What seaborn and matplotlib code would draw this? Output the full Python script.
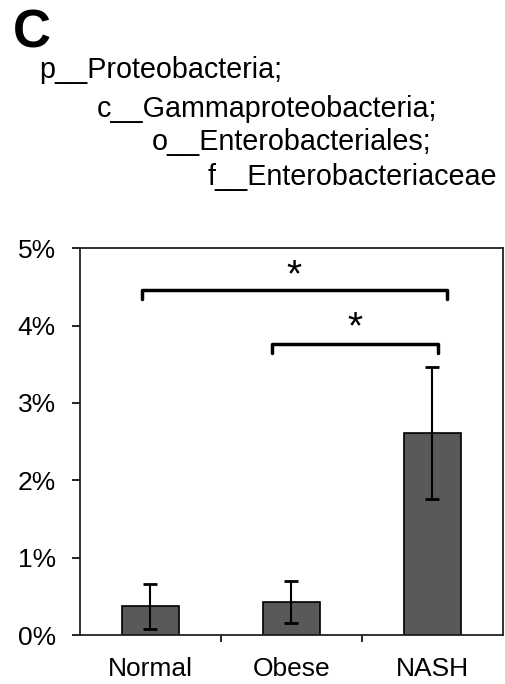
import matplotlib
matplotlib.use("Agg")
import matplotlib.pyplot as plt
import seaborn as sns
import pandas as pd
from matplotlib.ticker import FuncFormatter

groups = ["Normal", "Obese", "NASH"]
means = [0.37, 0.43, 2.61]
errors = [0.29, 0.27, 0.85]
taxonomy = ["p__Proteobacteria;", "c__Gammaproteobacteria;",
            "o__Enterobacteriales;", "f__Enterobacteriaceae"]
yticks = [0, 1, 2, 3, 4, 5]
brackets = [(-0.06, 2.1, 4.46), (0.86, 2.04, 3.76)]
star_y = [4.64, 3.97]

sns.set_style("ticks")
plt.rcParams['font.family'] = ['Liberation Sans', 'DejaVu Sans']
plt.rcParams['text.color'] = 'black'
plt.rcParams['xtick.color'] = 'black'
plt.rcParams['ytick.color'] = 'black'
plt.rcParams['xtick.labelcolor'] = 'black'
plt.rcParams['ytick.labelcolor'] = 'black'

fig = plt.figure(figsize=(5.06, 6.84), dpi=100)
ax = fig.add_axes([0.158, 0.0716, 0.836, 0.5654])

df = pd.DataFrame({"group": groups, "value": means})
sns.barplot(data=df, x="group", y="value", color="#595959", edgecolor="black",
            linewidth=1.2, width=0.41, saturation=1, errorbar=None, ax=ax)
ax.errorbar(range(len(groups)), means, yerr=errors, fmt="none", ecolor="black",
            elinewidth=1.5, capsize=5, capthick=2)

for (x0, x1, y), sy in zip(brackets, star_y):
    ax.plot([x0, x0, x1, x1], [y - 0.11, y, y, y - 0.11], color="black", lw=2.5,
            solid_joinstyle="round")
    ax.text((x0 + x1) / 2, sy, "*", ha="center", va="center", fontsize=28)

ax.set_xlim(-0.5, 2.5)
ax.set_ylim(0, 5)
ax.set_yticks(yticks)
ax.yaxis.set_major_formatter(FuncFormatter(lambda v, p: f"{int(v)}%"))
ax.set_xticks([0.5, 1.5], minor=False)
ax.set_xticklabels([])
ax.set_xticks([0, 1, 2], minor=True)
ax.set_xticklabels(groups, minor=True)
ax.tick_params(axis="x", which="minor", length=0, pad=15.5, labelsize=19)
ax.tick_params(axis="x", which="major", length=5, width=1.2, direction="out")
ax.tick_params(axis="y", length=5.5, width=1.2, labelsize=19, pad=12)
ax.set_xlabel("")
ax.set_ylabel("")
for s in ax.spines.values():
    s.set_linewidth(1.3)
    s.set_color("#222222")
    s.set_visible(True)

fig.text(13 / 506, 1 - 48 / 684, "C", fontsize=38, fontweight="bold", ha="left",
         va="baseline")
xs = [39, 97, 152, 208]
ys = [78, 117, 150, 185]
for t, x, y in zip(taxonomy, xs, ys):
    fig.text(x / 506, 1 - y / 684, t, fontsize=20.7, ha="left", va="baseline")

fig.savefig("out.png", dpi=100)
